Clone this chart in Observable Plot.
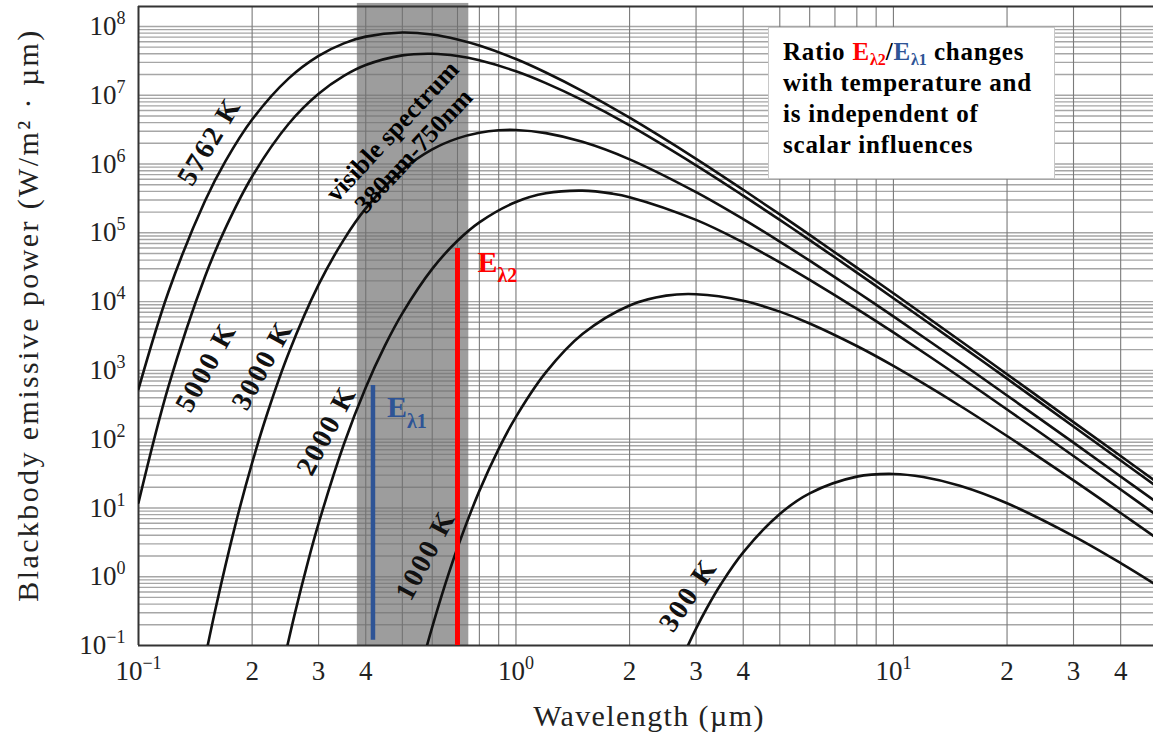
<!DOCTYPE html>
<html>
<head>
<meta charset="utf-8">
<script src="https://cdn.jsdelivr.net/npm/d3@7"></script>
<script src="https://cdn.jsdelivr.net/npm/@observablehq/plot@0.6"></script>
<style>
  html, body { margin: 0; padding: 0; background: #fff; }
  #wrap { position: relative; width: 1153px; height: 740px; overflow: hidden; background: #fff; }
  #note {
    position: absolute; left: 768px; top: 27px; width: 287px; height: 152px;
    box-sizing: border-box; background: #fff; border: 1.5px solid #c8c8c8;
    font-family: "Liberation Serif", "Times New Roman", serif; font-weight: bold;
    font-size: 25px; line-height: 31px; letter-spacing: 0.8px; color: #000;
    padding: 8px 0 0 14px; white-space: nowrap;
  }
  #note sub { font-size: 16px; vertical-align: -5px; line-height: 0; letter-spacing: 0; }
</style>
</head>
<body>
<div id="wrap"></div>
<script>
// ---- Axis extents and ticks ----
const xMin = 0.1, xMax = 48.87;
const yMin = 0.1, yMax = 1.95e8;
const xTicks = [0.1, 0.2, 0.3, 0.4, 0.5, 0.6, 1, 2, 3, 4, 5, 6, 10, 20, 30, 40];
const xTickLabels = ["10^-1", "2", "3", "4", "5", "6", "10^0", "2", "3", "4", "5", "6", "10^1", "2", "3", "4"];
const yTicks = [0.1, 1, 10, 100, 1e3, 1e4, 1e5, 1e6, 1e7, 1e8];
const yTickLabels = ["10^-1", "10^0", "10^1", "10^2", "10^3", "10^4", "10^5", "10^6", "10^7", "10^8"];
const gridMultipliers = [1, 2, 3, 4, 5, 6, 7, 8, 9];
const xDecades = [0.1, 1, 10];
const yDecades = [0.1, 1, 10, 100, 1e3, 1e4, 1e5, 1e6, 1e7, 1e8];

// ---- Blackbody curves: wavelength (µm) and emissive power (W/m²·µm) ----
const temps = ["5762 K", "5000 K", "3000 K", "2000 K", "1000 K", "300 K"];
const lam5762 = [0.1, 0.12, 0.15, 0.17, 0.2, 0.25, 0.3, 0.35, 0.4, 0.5, 0.6, 0.7, 0.8, 1, 1.2, 1.5, 2, 3, 4, 5, 6, 8, 10, 15, 20, 30, 40, 50];
const E5762 = [535, 1.38e4, 2.90e5, 1.10e6, 4.43e6, 1.76e7, 3.74e7, 5.68e7, 7.11e7, 8.17e7, 7.62e7, 6.47e7, 5.27e7, 3.36e7, 2.14e7, 1.15e7, 4.71e6, 1.19e6, 4.22e5, 1.85e5, 9.31e4, 3.12e4, 1.32e4, 2.72e3, 879, 177, 56.8, 23.4];
const lam5000 = [0.1, 0.12, 0.15, 0.17, 0.2, 0.25, 0.3, 0.35, 0.4, 0.5, 0.6, 0.7, 0.8, 1, 1.2, 1.5, 2, 3, 4, 5, 6, 8, 10, 15, 20, 30, 40, 50];
const E5000 = [11.9, 579, 2.30e4, 1.17e5, 6.59e5, 3.85e6, 1.05e7, 1.91e7, 2.75e7, 3.80e7, 4.01e7, 3.72e7, 3.22e7, 2.23e7, 1.50e7, 8.47e6, 3.64e6, 9.57e5, 3.47e5, 1.54e5, 7.82e4, 2.64e4, 1.12e4, 2.33e3, 757, 153, 49.0, 20.2];
const lam3000 = [0.15, 0.16, 0.18, 0.2, 0.22, 0.25, 0.3, 0.35, 0.4, 0.5, 0.6, 0.7, 0.8, 0.9, 1, 1.2, 1.5, 2, 3, 4, 5, 6, 8, 10, 15, 20, 30, 40, 50];
const E3000 = [0.0641, 0.343, 5.31, 45.1, 248, 1.79e3, 1.76e4, 7.96e4, 2.26e5, 8.17e5, 1.63e6, 2.36e6, 2.85e6, 3.09e6, 3.12e6, 2.81e6, 2.10e6, 1.17e6, 3.90e5, 1.58e5, 7.43e4, 3.93e4, 1.39e4, 6.08e3, 1.31e3, 432, 88.9, 28.7, 11.9];
const lam2000 = [0.24, 0.26, 0.28, 0.3, 0.35, 0.4, 0.45, 0.5, 0.6, 0.7, 0.8, 1, 1.2, 1.5, 1.8, 2, 3, 4, 5, 6, 8, 10, 15, 20, 30, 40, 50];
const E2000 = [0.0451, 0.303, 1.51, 5.94, 84.3, 565, 2.31e3, 6.75e3, 2.99e4, 7.66e4, 1.42e5, 2.81e5, 3.76e5, 4.10e5, 3.71e5, 3.30e5, 1.54e5, 7.24e4, 3.72e4, 2.07e4, 7.83e3, 3.56e3, 802, 270, 56.9, 18.5, 7.73];
const lam1000 = [0.58, 0.6, 0.65, 0.7, 0.8, 0.9, 1, 1.2, 1.5, 2, 2.5, 3, 4, 5, 6, 8, 10, 15, 20, 30, 40, 50];
const E1000 = [0.0959, 0.185, 0.785, 2.64, 17.7, 72.3, 211, 933, 3.37e3, 8.79e3, 1.22e4, 1.28e4, 1.03e4, 7.14e3, 4.81e3, 2.26e3, 1.16e3, 306, 111, 25.1, 8.43, 3.59];
const lam300 = [2.85, 3, 3.2, 3.5, 4, 5, 6, 8, 10, 12, 15, 20, 30, 40, 50];
const E300 = [0.098, 0.176, 0.345, 0.796, 2.26, 8.17, 16.3, 28.5, 31.2, 28.1, 21.0, 11.7, 3.90, 1.58, 0.743];

// Curve label anchor points (µm, W/m²·µm) and angles
const labelLam = [0.154, 0.151, 0.213, 0.315, 0.576, 2.86];
const labelE = [2.13e6, 1.11e3, 1.18e3, 134, 2.05, 0.537];
const labelAngle = [-59, -61, -61, -62, -62, -56];

// Visible spectrum band (µm)
const visibleBand = {lo: 0.38, hi: 0.75, bottom: 0.1, top: 2.16e8, cx: 0.5, cy: 2.2e6};
// Two measurement wavelengths
const lambda1 = {lambda: 0.418, bottom: 0.119, top: 605};
const lambda2 = {lambda: 0.70, bottom: 0.1, top: 5.9e4};

// ---- Build tables ----
const lamSets = [lam5762, lam5000, lam3000, lam2000, lam1000, lam300];
const eSets = [E5762, E5000, E3000, E2000, E1000, E300];
const curveData = temps.flatMap((T, k) => lamSets[k].map((l, i) => ({T, lambda: l, E: eSets[k][i]})));
const labels = temps.map((T, k) => ({T, lambda: labelLam[k], E: labelE[k], angle: labelAngle[k]}));
const xGrid = xDecades.flatMap(d => gridMultipliers.map(m => m * d)).filter(v => v > xMin * 1.0001 && v <= xMax);
const yGrid = yDecades.flatMap(d => gridMultipliers.map(m => m * d)).filter(v => v > yMin * 1.0001 && v <= yMax);

const serif = "'Liberation Serif', 'Times New Roman', serif";

const chart = Plot.plot({
  width: 1153, height: 740,
  marginLeft: 138, marginRight: 0, marginTop: 6, marginBottom: 95,
  x: {type: "log", domain: [xMin, xMax]},
  y: {type: "log", domain: [yMin, yMax]},
  style: {fontFamily: serif, fontSize: "27px", color: "#222", background: "#fff", overflow: "visible"},
  marks: [
    Plot.ruleY(yGrid, {stroke: "#a6a6a6", strokeWidth: 1.4}),
    Plot.ruleX(xGrid, {stroke: "#7a7a7a", strokeWidth: 1.1}),
    Plot.rect([visibleBand], {x1: "lo", x2: "hi", y1: "bottom", y2: "top", fill: "#6e6e6e", fillOpacity: 0.68}),
    Plot.ruleX([xMin], {stroke: "#333", strokeWidth: 2}),
    Plot.ruleY([yMin, yMax], {stroke: "#333", strokeWidth: 2}),
    Plot.axisY({ticks: yTicks, tickFormat: d => yTickLabels[yTicks.indexOf(d)], tickSize: 0, tickPadding: 13, fontSize: 27, label: null, fill: "#222"}),
    Plot.axisX({ticks: xTicks, tickFormat: d => xTickLabels[xTicks.indexOf(d)], tickSize: 0, tickPadding: 15, fontSize: 27, label: null, fill: "#222"}),
    Plot.line(curveData, {x: "lambda", y: "E", z: "T", stroke: "#111", strokeWidth: 2.6, curve: "catmull-rom", clip: true}),
    Plot.ruleX([lambda1], {x: "lambda", y1: "bottom", y2: "top", stroke: "#2e5496", strokeWidth: 4.5}),
    Plot.ruleX([lambda2], {x: "lambda", y1: "bottom", y2: "top", stroke: "#ff0000", strokeWidth: 5}),
    Plot.text(labels, {x: "lambda", y: "E", text: "T", rotate: "angle", fontSize: 28, fontWeight: "bold", fill: "#111"}),
    Plot.text([visibleBand], {x: "cx", y: "cy", text: () => "visible spectrum\n380nm-750nm", rotate: -47, fontSize: 26, fontWeight: "bold", fill: "#000", lineHeight: 1.12}),
    Plot.text([lambda2], {x: "lambda", y: "top", text: () => "E", dx: 20, dy: 14, textAnchor: "start", fontSize: 30, fontWeight: "bold", fill: "#ff0000"}),
    Plot.text([lambda2], {x: "lambda", y: "top", text: () => "λ2", dx: 40, dy: 27, textAnchor: "start", fontSize: 20, fontWeight: "bold", fill: "#ff0000"}),
    Plot.text([lambda1], {x: "lambda", y: "top", text: () => "E", dx: 14, dy: 22, textAnchor: "start", fontSize: 30, fontWeight: "bold", fill: "#2e5496"}),
    Plot.text([lambda1], {x: "lambda", y: "top", text: () => "λ1", dx: 34, dy: 36, textAnchor: "start", fontSize: 20, fontWeight: "bold", fill: "#2e5496"}),
    Plot.text(["Blackbody emissive power (W/m² · µm)"], {frameAnchor: "left", text: d => d, textAnchor: "middle", lineAnchor: "middle", dx: -110, dy: -11, rotate: -90, fontSize: 30, fill: "#222"}),
    Plot.text(["Wavelength (µm)"], {frameAnchor: "bottom", text: d => d, textAnchor: "middle", dx: 3, dy: 80, fontSize: 30, fill: "#222"})
  ]
});

const wrap = document.getElementById("wrap");
wrap.appendChild(chart);

// ---- Post-processing: superscript tick labels, letter spacing ----
const NS = "http://www.w3.org/2000/svg";
function supify(t) {
  const m = /^10\^(-?\d+)$/.exec(t.textContent);
  if (!m) return;
  t.textContent = "";
  const base = document.createElementNS(NS, "tspan");
  base.textContent = "10";
  const sup = document.createElementNS(NS, "tspan");
  sup.textContent = m[1].replace("-", "\u2212");
  sup.setAttribute("dy", "-11");
  sup.style.fontSize = "18px";
  t.append(base, sup);
}
chart.querySelectorAll('g[aria-label="x-axis tick label"] text, g[aria-label="y-axis tick label"] text').forEach(supify);
chart.querySelectorAll("text").forEach(t => {
  const s = t.textContent;
  if (/^\d+ K$/.test(s)) t.setAttribute("letter-spacing", "2");
  if (s.startsWith("Blackbody")) t.setAttribute("letter-spacing", "2.4");
  if (s.startsWith("Wavelength")) t.setAttribute("letter-spacing", "1.4");
});

// ---- Annotation box ----
const note = document.createElement("div");
note.id = "note";
note.innerHTML = 'Ratio <span style="color:#ff0000">E<sub>λ2</sub></span>/<span style="color:#2e5496">E<sub>λ1</sub></span> changes<br>with temperature and<br>is independent of<br>scalar influences';
wrap.appendChild(note);
</script>
</body>
</html>
